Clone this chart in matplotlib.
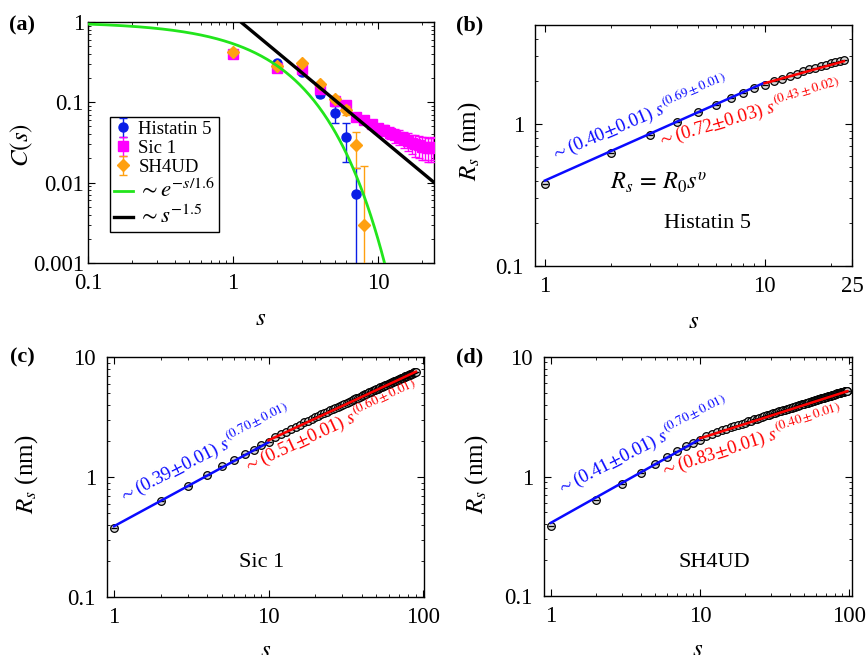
import numpy as np
import matplotlib.pyplot as plt
from matplotlib.ticker import FixedLocator, FixedFormatter, LogLocator, NullFormatter

plt.rcParams['font.family'] = ['Liberation Serif', 'DejaVu Serif']
plt.rcParams['mathtext.fontset'] = 'stix'

# ---- (a) C(s) for the three proteins ----
hst5_s = [1, 2, 3, 4, 5, 6, 7]
hst5_c = [0.41, 0.305, 0.235, 0.127, 0.073, 0.037, 0.0072]
hst5_err = [0.01, 0.01, 0.01, 0.012, 0.017, 0.019, 0.008]

sic1_s = list(range(1, 25))
sic1_c = [0.40, 0.265, 0.26, 0.145, 0.105, 0.092, 0.066, 0.060, 0.053, 0.048,
          0.045, 0.042, 0.039, 0.037, 0.035, 0.033, 0.031, 0.030, 0.029, 0.028,
          0.028, 0.027, 0.027, 0.028]
sic1_err = [0.01, 0.01, 0.015, 0.012, 0.008, 0.008, 0.006, 0.006, 0.006, 0.006,
            0.007, 0.007, 0.008, 0.008, 0.008, 0.008, 0.008, 0.009, 0.009, 0.009,
            0.009, 0.009, 0.009, 0.009]

sh4ud_s = [1, 2, 3, 4, 5, 6, 7, 8]
sh4ud_c = [0.42, 0.28, 0.31, 0.169, 0.111, 0.080, 0.029, 0.003]
sh4ud_err = [0.01, 0.01, 0.01, 0.01, 0.01, 0.01, 0.014, 0.013]

exp_decay = 1.6      # ~exp(-s/1.6)
pow_amp, pow_exp = 1.2, -1.5   # ~s^-1.5

# ---- (b)-(d) Rs(s) ----
hst5_rs = [0.381, 0.621, 0.836, 1.03, 1.21, 1.37, 1.53, 1.66, 1.79, 1.90,
           2.00, 2.09, 2.18, 2.27, 2.35, 2.43, 2.50, 2.57, 2.62, 2.68,
           2.72, 2.77, 2.81]

sic1_rs = [0.378, 0.627, 0.841, 1.04, 1.23, 1.39, 1.56, 1.70, 1.84, 1.97,
           2.16, 2.28, 2.40, 2.52, 2.63, 2.75, 2.86, 2.96, 3.06, 3.16,
           3.25, 3.34, 3.43, 3.52, 3.61, 3.70, 3.78, 3.86, 3.94, 4.02,
           4.10, 4.18, 4.25, 4.33, 4.40, 4.47, 4.55, 4.62, 4.69, 4.76,
           4.83, 4.90, 4.96, 5.03, 5.10, 5.16, 5.22, 5.29, 5.35, 5.41,
           5.47, 5.54, 5.60, 5.66, 5.72, 5.78, 5.84, 5.89, 5.95, 6.01,
           6.06, 6.12, 6.18, 6.23, 6.29, 6.34, 6.40, 6.45, 6.50, 6.56,
           6.61, 6.66, 6.72, 6.77, 6.82, 6.87, 6.92, 6.97, 7.02, 7.07,
           7.12, 7.17, 7.22, 7.27, 7.32, 7.37, 7.42, 7.47, 7.52, 7.56]

sh4ud_rs = [0.385, 0.642, 0.869, 1.07, 1.28, 1.47, 1.63, 1.79, 1.91, 2.04,
            2.18, 2.27, 2.35, 2.43, 2.51, 2.58, 2.65, 2.71, 2.77, 2.83,
            2.89, 2.94, 3.00, 3.05, 3.10, 3.15, 3.20, 3.24, 3.29, 3.33,
            3.38, 3.42, 3.46, 3.50, 3.54, 3.58, 3.62, 3.66, 3.70, 3.73,
            3.77, 3.81, 3.84, 3.88, 3.91, 3.94, 3.98, 4.01, 4.04, 4.07,
            4.10, 4.13, 4.16, 4.19, 4.22, 4.25, 4.28, 4.31, 4.34, 4.37,
            4.39, 4.42, 4.45, 4.48, 4.50, 4.53, 4.56, 4.58, 4.61, 4.63,
            4.66, 4.68, 4.71, 4.73, 4.76, 4.78, 4.81, 4.83, 4.85, 4.88,
            4.90, 4.92, 4.95, 4.97, 4.99, 5.01, 5.04, 5.06, 5.08, 5.10,
            5.12, 5.14, 5.16, 5.18, 5.20, 5.21, 5.22]

# power-law fits: (R0, dR0, nu, dnu, s_from, s_to)
hst5_fits = [(0.40, 0.01, 0.69, 0.01, 1, 10), (0.72, 0.03, 0.43, 0.02, 10, 23)]
sic1_fits = [(0.39, 0.01, 0.70, 0.01, 1, 10), (0.51, 0.01, 0.60, 0.01, 10, 90)]
sh4ud_fits = [(0.41, 0.01, 0.70, 0.01, 1, 10), (0.83, 0.01, 0.40, 0.01, 10, 97)]

fit_colors = ['#0a0aff', '#ff0000']


def style_log(ax, xticks, yticks, xlim, ylim, ypad=8):
    ax.set_xscale('log')
    ax.set_yscale('log')
    ax.set_xlim(*xlim)
    ax.set_ylim(*ylim)
    ax.xaxis.set_major_locator(FixedLocator(xticks))
    ax.xaxis.set_major_formatter(FixedFormatter(['%g' % t for t in xticks]))
    ax.yaxis.set_major_locator(FixedLocator(yticks))
    ax.yaxis.set_major_formatter(FixedFormatter(['%g' % t for t in yticks]))
    for axis in (ax.xaxis, ax.yaxis):
        axis.set_minor_locator(LogLocator(base=10, subs=np.arange(2, 10), numticks=20))
        axis.set_minor_formatter(NullFormatter())
    ax.tick_params(which='both', direction='in', top=True, right=True, labelsize=16.5)
    ax.tick_params(which='major', length=5, width=0.8)
    ax.tick_params(which='minor', length=2.5, width=0.6)
    ax.tick_params(axis='x', pad=7)
    ax.tick_params(axis='y', pad=ypad)
    for sp in ax.spines.values():
        sp.set_linewidth(1.0)


def fit_label(R0, dR0, nu, dnu):
    return r'$\sim$(%.2f$\pm$%.2f) $s^{(%.2f\pm%.2f)}$' % (R0, dR0, nu, dnu)


def rs_panel(ax, rs, fits, label_pos, label_rot, name, name_pos):
    s = np.arange(1, len(rs) + 1)
    ax.plot(s, rs, 'o', ms=5.5, mfc='0.85', mec='black', mew=0.9, zorder=2)
    ax.plot(s, rs, '_', ms=5, mec='black', mew=0.9, zorder=2)
    for (R0, dR0, nu, dnu, s0, s1), col, pos, rot in zip(fits, fit_colors, label_pos, label_rot):
        ss = np.linspace(s0, s1, 50)
        ax.plot(ss, R0 * ss ** nu, color=col, lw=1.8, zorder=3)
        ax.text(pos[0], pos[1], fit_label(R0, dR0, nu, dnu), color=col, fontsize=13.5,
                rotation=rot, rotation_mode='anchor', ha='left', va='baseline')
    ax.text(name_pos[0], name_pos[1], name, fontsize=16, ha='center', va='center')
    ax.set_xlabel(r'$s$', fontsize=18)
    ax.set_ylabel(r'$R_s$ (nm)', fontsize=18)


fig = plt.figure(figsize=(8.67, 6.55), dpi=100)

ax_a = fig.add_axes([0.1015, 0.5985, 0.399, 0.368])
ax_b = fig.add_axes([0.617, 0.594, 0.3656, 0.368])
ax_c = fig.add_axes([0.1234, 0.0885, 0.3656, 0.366])
ax_d = fig.add_axes([0.6275, 0.090, 0.355, 0.365])

# panel (a)
h1 = ax_a.errorbar(hst5_s, hst5_c, yerr=hst5_err, fmt='o', color='#0a1ee6', ms=6.5,
                   capsize=3, elinewidth=1, label='Histatin 5', zorder=2)
h2 = ax_a.errorbar(sic1_s, sic1_c, yerr=sic1_err, fmt='s', color='#ff00ff', ms=6.5,
                   capsize=3, elinewidth=1, label='Sic 1', zorder=3)
h3 = ax_a.errorbar(sh4ud_s, sh4ud_c, yerr=sh4ud_err, fmt='D', color='#ffa010', ms=6.5,
                   capsize=3, elinewidth=1, label='SH4UD', zorder=4)
xs = np.logspace(-1, np.log10(25), 300)
h4, = ax_a.plot(xs, np.exp(-xs / exp_decay), color='#22e51c', lw=2, zorder=5,
                label=r'$\sim e^{-s/1.6}$')
h5, = ax_a.plot(xs, pow_amp * xs ** pow_exp, color='black', lw=2.4, zorder=5,
                label=r'$\sim s^{-1.5}$')
style_log(ax_a, [0.1, 1, 10], [0.001, 0.01, 0.1, 1], (0.1, 24.2), (0.001, 1), ypad=3)
ax_a.set_xlabel(r'$s$', fontsize=18)
ax_a.set_ylabel(r'$C(s)$', fontsize=18)
leg = ax_a.legend(handles=[h1, h2, h3, h4, h5], loc='lower left',
                  bbox_to_anchor=(0.064, 0.129), fontsize=13.5,
                  frameon=True, fancybox=False, edgecolor='black', framealpha=1,
                  handlelength=1.0, handletextpad=0.3, labelspacing=0.1,
                  borderpad=0.2, borderaxespad=0)
leg.get_frame().set_linewidth(1.0)
for t in leg.get_texts()[3:]:
    t.set_fontsize(16.5)

# panels (b)-(d)
rs_panel(ax_b, hst5_rs, hst5_fits, [(1.09, 0.55), (3.33, 0.70)], [23, 16.5],
         'Histatin 5', (5.5, 0.198))
style_log(ax_b, [1, 10, 25], [0.1, 1], (0.9, 25), (0.1, 5))
ax_b.text(3.3, 0.384, r'$R_s\,=\,R_0 s^{\upsilon}$', fontsize=17.5, ha='center', va='center')

rs_panel(ax_c, sic1_rs, sic1_fits, [(1.13, 0.61), (7.2, 1.09)], [27, 25],
         'Sic 1', (9.0, 0.195))
style_log(ax_c, [1, 10, 100], [0.1, 1, 10], (0.9, 101.5), (0.1, 10))

rs_panel(ax_d, sh4ud_rs, sh4ud_fits, [(1.15, 0.71), (5.54, 1.0)], [27, 18],
         'SH4UD', (12.5, 0.19))
style_log(ax_d, [1, 10, 100], [0.1, 1, 10], (0.9, 104), (0.1, 10))

# axis label placement
ax_a.yaxis.set_label_coords(-0.153, 0.49)
ax_b.yaxis.set_label_coords(-0.164, 0.515)
ax_c.yaxis.set_label_coords(-0.211, 0.51)
ax_d.yaxis.set_label_coords(-0.175, 0.51)
for ax in (ax_a, ax_b):
    ax.xaxis.set_label_coords(0.5, -0.185)
for ax in (ax_c, ax_d):
    ax.xaxis.set_label_coords(0.5, -0.18)

# panel letters
for lab, (x, y) in zip(['(a)', '(b)', '(c)', '(d)'],
                       [(22, 25), (470, 25), (22, 357), (470, 357)]):
    fig.text(x / 867, 1 - y / 655, lab, fontsize=16, fontweight='bold',
             ha='center', va='center')

fig.savefig('out.png', dpi=100)
